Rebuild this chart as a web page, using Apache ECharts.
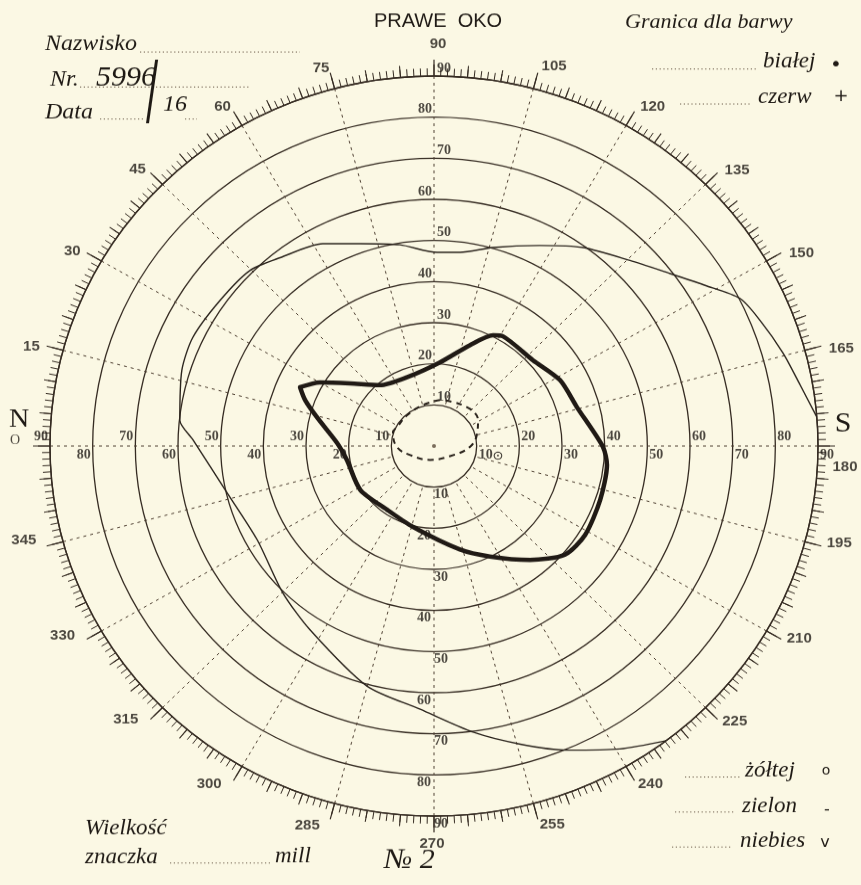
<!DOCTYPE html>
<html>
<head>
<meta charset="utf-8">
<title>Prawe oko</title>
<script src="https://cdn.jsdelivr.net/npm/echarts@6/dist/echarts.min.js"></script>
<style>
  html, body { margin: 0; padding: 0; background: #fbf8e4; overflow: hidden; }
  /* the printed form is slightly squashed vertically; the canvas is padded by 40px above and below */
  #chart { position: absolute; left: 0; top: -40px; width: 861px; height: 965px;
           transform-origin: 0 486px; transform: scaleY(0.9635); }
</style>
</head>
<body>
<div id="chart"></div>
<script>
// Meridian scale round the rim (degrees, clockwise from the nasal side)
const meridianTicks  = [0, 15, 30, 45, 60, 75, 90, 105, 120, 135, 150, 165, 180, 195, 210, 225, 240, 255, 270, 285, 300, 315, 330, 345];
const meridianLabels = ['O', '15', '30', '45', '60', '75', '90', '105', '120', '135', '150', '165', '180', '195', '210', '225', '240', '255', '270', '285', '300', '315', '330', '345'];

// Eccentricity rings (degrees from fixation) and the meridians that carry their numbers
const eccentricityTicks = [10, 20, 30, 40, 50, 60, 70, 80, 90];
const numberedMeridians = [0, 90, 180, 270];

// Thick isopter (eccentricity, meridian)
const isopterEcc = [34.5, 30.9, 24.9, 19.5, 17.9, 20.4, 25.9, 30.3, 31.2, 31.2, 33.6, 34.8, 39.6, 40.8, 41.1, 41.5, 40.5, 35.7, 29.9, 25.9, 20.3, 19.0, 20.3, 20.7, 22.7, 28.3, 32.2, 34.5];
const isopterMer = [24.5, 30.1, 37.8, 49.4, 69.3, 93.9, 108.9, 117.2, 121.2, 138.0, 151.5, 164.2, 180.3, 186.5, 198.6, 211.4, 220.7, 230.9, 244.0, 256.4, 284.0, 305.4, 328.3, 350.5, 1.8, 14.3, 20.3, 24.5];

// Dashed central isopter
const innerEcc = [11.3, 10.3, 9.8, 9.8, 10.2, 8.7, 6.0, 3.5, 4.5, 8.4, 10.6, 12.1, 12.5, 12.2, 11.6, 11.3];
const innerMer = [97.1, 75.3, 50.0, 27.9, 19.5, 358.4, 338.6, 285.5, 213.0, 181.6, 162.7, 148.5, 140.2, 129.0, 112.6, 97.1];

// Thin outer boundary
const outerEcc = [90.0, 87.1, 84.9, 82.3, 80.2, 74.6, 69.4, 64.4, 59.6, 54.7, 50.2, 47.5, 47.1, 49.6, 52.2, 55.7, 58.3, 60.7, 61.4, 62.4, 61.9, 59.9, 56.5, 49.8, 47.3, 50.3, 53.3, 60.5, 64.1, 70.2, 75.3, 80.3, 85.6, 90.0];
const outerMer = [175.5, 170.2, 164.6, 158.2, 153.4, 148.4, 142.8, 135.5, 125.9, 116.9, 105.9, 97.4, 90.9, 80.7, 70.6, 62.1, 51.8, 44.7, 35.2, 25.0, 17.3, 6.0, 1.5, 346.8, 331.2, 314.8, 303.1, 285.0, 272.9, 262.5, 254.4, 247.1, 239.4, 232.8];

const INK = '#1f1a15';
const RULE = '#352b22';
const SY = 0.9635;              // vertical squash of the chart element
const CX = 434, CYC = 486;      // centre in chart pixels
const R90 = 384;                // radius of the 90 degree ring
const Y = y => CYC + (y - 446) / SY;   // page y -> chart y

const zip = (r, a) => r.map((v, i) => [v, a[i]]);

// rim numbers: just outside the tick ring, set beside their tick on the side facing the horizontal diameter
function rimPlacement(m) {
  const rad = m * Math.PI / 180;
  const q = Math.floor(m / 90);               // 0 upper-left, 1 upper-right, 2 lower-right, 3 lower-left
  const shift = [-1.1, 2.0, -1.8, 2.9][q];
  const dr = [-3, 1, -1, 3][q];
  const onAxis = m % 90 === 0;
  const rPx = 408 + 11 * Math.abs(Math.cos(rad)) + (onAxis ? 0 : dr);
  const a = onAxis ? m : m + shift * (0.4 + 0.6 * Math.abs(Math.sin(rad)));
  return [rPx / R90 * 90, a];
}
const rimData = meridianTicks.map((m, i) => {
  const item = { value: rimPlacement(m), label: { formatter: meridianLabels[i] } };
  if (m === 0) item.label = { formatter: 'O', fontSize: 14, fontWeight: 'normal', fontFamily: 'Liberation Serif', offset: [0, -6] };
  if (m === 90) item.label.offset = [4, -9];
  if (m === 270) item.label.offset = [-2, 5];
  if (m === 180) item.label.offset = [-8, 22];
  return item;
});

// ring numbers along the four principal meridians
const ringStyle = {
  0:   { odd: { align: 'right', verticalAlign: 'bottom', offset: [-2, -3] }, even: { align: 'right', verticalAlign: 'top', offset: [-2, 2] } },
  180: { odd: { align: 'left',  verticalAlign: 'top',    offset: [2, 2] },   even: { align: 'left',  verticalAlign: 'bottom', offset: [2, -3] } },
  90:  { odd: { align: 'left',  verticalAlign: 'bottom', offset: [3, -1] },  even: { align: 'right', verticalAlign: 'bottom', offset: [-2, -1] } },
  270: { odd: { align: 'left',  verticalAlign: 'top',    offset: [0, 1] },   even: { align: 'right', verticalAlign: 'top', offset: [-3, 1] } }
};
const ringData = [];
numberedMeridians.forEach(m => {
  eccentricityTicks.forEach(e => {
    const st = (e / 10) % 2 === 1 ? ringStyle[m].odd : ringStyle[m].even;
    ringData.push({ value: [e, m], label: Object.assign({ formatter: String(e) }, st) });
  });
});

const T = (text, x, y, font, extra) => ({
  type: 'text', x: x, y: Y(y), silent: true,
  style: Object.assign({ text: text, font: font, fill: INK, align: 'left', verticalAlign: 'middle' }, extra || {})
});
const D = (x1, x2, y) => ({
  type: 'line', silent: true,
  shape: { x1: x1, y1: Y(y), x2: x2, y2: Y(y) },
  style: { stroke: '#6a5a48', lineWidth: 1, lineDash: [1.2, 2.6] }
});
const SCRIPT = 'italic 23px "Liberation Serif"';

const axisOff = { show: false };
const chart = echarts.init(document.getElementById('chart'), null, { renderer: 'canvas' });
chart.setOption({
  backgroundColor: '#fbf8e4',
  animation: false,
  polar: [
    { center: [CX, CYC], radius: R90 },
    { center: [CX, CYC], radius: R90 },
    { center: [CX, CYC], radius: [R90 / 9, R90] }
  ],
  angleAxis: [
    {
      polarIndex: 0, type: 'value', min: 0, max: 360, interval: 15,
      startAngle: 180, clockwise: true,
      axisLine: { show: true, lineStyle: { color: RULE, width: 1.4 } },
      axisTick: { show: true, length: 17, lineStyle: { color: RULE, width: 1.2 } },
      minorTick: { show: true, splitNumber: 15, length: 8, lineStyle: { color: RULE, width: 1 } },
      splitLine: axisOff,
      axisLabel: axisOff
    },
    {
      polarIndex: 1, type: 'value', min: 0, max: 360, interval: 5,
      startAngle: 180, clockwise: true,
      axisLine: axisOff,
      axisTick: { show: true, length: 12, lineStyle: { color: RULE, width: 1.1 } },
      splitLine: axisOff,
      axisLabel: axisOff
    },
    {
      polarIndex: 2, type: 'value', min: 0, max: 360, interval: 15,
      startAngle: 180, clockwise: true,
      axisLine: axisOff, axisTick: axisOff, axisLabel: axisOff,
      splitLine: { show: true, lineStyle: { color: '#4f4032', width: 1, type: [3, 4] } }
    }
  ],
  radiusAxis: [
    {
      polarIndex: 0, type: 'value', min: 0, max: 90, interval: 10,
      axisLine: axisOff, axisTick: axisOff, axisLabel: axisOff,
      splitLine: { show: true, lineStyle: { color: RULE, width: 1.3 } }
    },
    {
      polarIndex: 1, type: 'value', min: 0, max: 90, interval: 10,
      axisLine: axisOff, axisTick: axisOff, axisLabel: axisOff, splitLine: axisOff
    },
    {
      polarIndex: 2, type: 'value', min: 10, max: 90, interval: 10,
      axisLine: axisOff, axisTick: axisOff, axisLabel: axisOff, splitLine: axisOff
    }
  ],
  series: [
    {
      name: 'outer', type: 'line', coordinateSystem: 'polar', polarIndex: 0,
      data: zip(outerEcc, outerMer), showSymbol: false, smooth: 0.25, clip: false,
      lineStyle: { color: '#2b241d', width: 1.4 }, silent: true
    },
    {
      name: 'isopter', type: 'line', coordinateSystem: 'polar', polarIndex: 0,
      data: zip(isopterEcc, isopterMer), showSymbol: false, smooth: 0.25, clip: false,
      lineStyle: { color: '#201a15', width: 4.5, cap: 'round', join: 'round' }, silent: true
    },
    {
      name: 'central', type: 'line', coordinateSystem: 'polar', polarIndex: 0,
      data: zip(innerEcc, innerMer), showSymbol: false, smooth: 0.4, clip: false,
      lineStyle: { color: '#2a231c', width: 2, type: [6, 5] }, silent: true
    },
    {
      name: 'fixation', type: 'scatter', coordinateSystem: 'polar', polarIndex: 0,
      data: [[0, 0]], symbolSize: 4, itemStyle: { color: '#5a4a3a' }, silent: true
    },
    {
      name: 'rim', type: 'scatter', coordinateSystem: 'polar', polarIndex: 0, clip: false,
      data: rimData, symbolSize: 1, itemStyle: { color: 'transparent' }, silent: true,
      label: { show: true, position: 'inside', color: INK, fontSize: 15, fontWeight: 'bold', fontFamily: 'Liberation Sans' }
    },
    {
      name: 'rings', type: 'scatter', coordinateSystem: 'polar', polarIndex: 0, clip: false,
      data: ringData, symbolSize: 1, itemStyle: { color: 'transparent' }, silent: true,
      label: { show: true, position: 'inside', color: INK, fontSize: 14, fontWeight: 'bold', fontFamily: 'Liberation Serif' }
    }
  ],
  graphic: [
    T('PRAWE  OKO', 438, 22, '20px "Liberation Sans"', { align: 'center' }),
    T('N', 19, 420, '28px "Liberation Serif"', { align: 'center' }),
    T('S', 843, 424, '30px "Liberation Serif"', { align: 'center' }),
    T('\u2299', 498, 456, '13px "DejaVu Sans"', { align: 'center' }),

    T('Nazwisko', 45, 44, 'italic 24px "Liberation Serif"'),
    D(140, 300, 52),
    T('Nr.', 50, 80, 'italic 24px "Liberation Serif"'),
    D(80, 250, 87),
    T('5996', 96, 78, 'italic 30px "Liberation Serif"'),
    Object.assign(T('/', 152, 96, '36px "DejaVu Sans"', { align: 'center' }), { scaleY: 2.25 }),
    T('16', 163, 105, 'italic 24px "Liberation Serif"'),
    T('Data', 45, 112, 'italic 24px "Liberation Serif"'),
    D(100, 145, 119), D(185, 197, 119),

    T('Granica dla barwy', 625, 22, 'italic 22px "Liberation Serif"'),
    D(652, 757, 69),
    T('bia\u0142ej', 763, 62, SCRIPT),
    T('\u2022', 836, 65, '20px "DejaVu Sans"', { align: 'center' }),
    D(680, 752, 104),
    T('czerw', 758, 97, SCRIPT),
    T('+', 841, 97, '18px "DejaVu Sans"', { align: 'center' }),

    D(685, 740, 777),
    T('\u017c\u00f3\u0142tej', 745, 771, SCRIPT),
    T('o', 826, 771, '14px "DejaVu Sans"', { align: 'center' }),
    D(675, 735, 812),
    T('zielon', 742, 806, SCRIPT),
    T('-', 827, 810, '16px "DejaVu Sans"', { align: 'center' }),
    D(672, 732, 847),
    T('niebies', 740, 841, SCRIPT),
    T('v', 825, 843, '16px "DejaVu Sans"', { align: 'center' }),

    T('Wielko\u015b\u0107', 85, 828, SCRIPT),
    T('znaczka', 85, 857, SCRIPT),
    D(170, 272, 863),
    T('mill', 275, 856, SCRIPT),
    T('\u2116 2', 384, 860, 'italic 30px "Liberation Serif"')
  ]
});
</script>
</body>
</html>
